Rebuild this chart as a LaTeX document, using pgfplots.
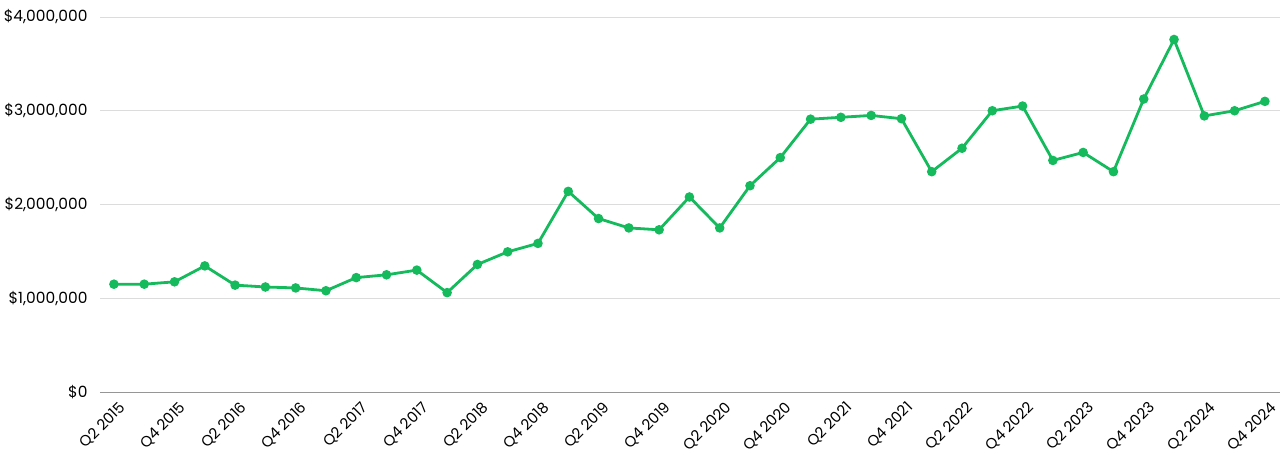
\documentclass[border=0pt]{standalone}
\usepackage{fontspec}
\setmainfont{Poppins}
\usepackage{pgfplots}
\pgfplotsset{compat=1.18}
\definecolor{lgreen}{RGB}{20,186,92}
\definecolor{gridc}{RGB}{220,220,220}
\definecolor{axc}{RGB}{150,150,150}
\begin{document}
\begin{tikzpicture}[x=1bp,y=1bp]
\begin{axis}[
  at={(0,0)}, anchor=south west,
  scale only axis, width=1180bp, height=375bp,
  xmin=-0.46, xmax=38.5, ymin=0, ymax=4000000,
  scaled y ticks=false,
  axis lines*=left,
  y axis line style={draw=none},
  x axis line style={axc, line width=0.8pt, -},
  ymajorgrids, grid style={gridc, line width=0.8pt},
  ytick={0,1000000,2000000,3000000,4000000},
  yticklabels={{\$0},{\$1,000,000},{\$2,000,000},{\$3,000,000},{\$4,000,000}},
  major tick length=0pt,
  xtick={0,2,...,38},
  xticklabels={Q2 2015,Q4 2015,Q2 2016,Q4 2016,Q2 2017,Q4 2017,Q2 2018,Q4 2018,Q2 2019,Q4 2019,Q2 2020,Q4 2020,Q2 2021,Q4 2021,Q2 2022,Q4 2022,Q2 2023,Q4 2023,Q2 2024,Q4 2024},
  x tick label style={rotate=45, anchor=north east, font=\fontsize{15}{17}\selectfont, inner sep=1bp, xshift=-2bp, yshift=-8bp},
  y tick label style={font=\fontsize{15.5}{17}\selectfont, anchor=east, xshift=-9bp},
  clip=false,
]
\addplot[lgreen, line width=2.8bp, mark=*, mark size=3.3bp, mark options={lgreen}] coordinates {
(0,1150000)(1,1150000)(2,1175000)(3,1345000)(4,1140000)(5,1120000)(6,1110000)(7,1080000)
(8,1220000)(9,1250000)(10,1300000)(11,1060000)(12,1360000)(13,1495000)(14,1585000)
(15,2140000)(16,1850000)(17,1750000)(18,1730000)(19,2080000)(20,1750000)(21,2200000)
(22,2500000)(23,2910000)(24,2930000)(25,2950000)(26,2915000)(27,2350000)(28,2600000)
(29,3000000)(30,3050000)(31,2470000)(32,2555000)(33,2350000)(34,3125000)(35,3760000)
(36,2945000)(37,3000000)(38,3100000)
};
\end{axis}
\pgfresetboundingbox
\path[use as bounding box] (-100,-63) rectangle (1180,392);
\end{tikzpicture}
\end{document}
